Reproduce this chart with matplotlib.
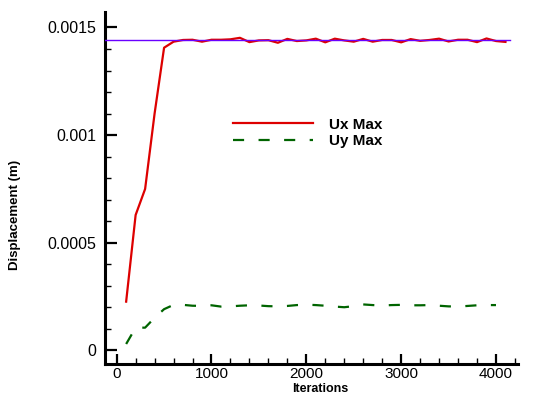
import matplotlib
matplotlib.use("Agg")
import matplotlib.pyplot as plt
from matplotlib.ticker import MultipleLocator

plt.rcParams["font.family"] = ["Liberation Sans", "DejaVu Sans"]

ITER_UX = list(range(100, 4200, 100))
UX_MAX = [
    0.000225, 0.000628, 0.000749, 0.001100, 0.001406, 0.001434, 0.001442, 0.001443,
    0.001434, 0.001443, 0.001443, 0.001445, 0.001452, 0.001432, 0.001440, 0.001441,
    0.001429, 0.001447, 0.001437, 0.001440, 0.001448, 0.001431, 0.001448, 0.001440,
    0.001434, 0.001447, 0.001434, 0.001442, 0.001442, 0.001431, 0.001446, 0.001438,
    0.001442, 0.001448, 0.001435, 0.001443, 0.001443, 0.001432, 0.001449, 0.001437,
    0.001433,
]

ITER_UY = list(range(100, 4100, 100))
UY_MAX = [
    0.000028, 0.000104, 0.000104, 0.000150, 0.000190, 0.000210, 0.000210, 0.000206,
    0.000205, 0.000208, 0.000202, 0.000203, 0.000206, 0.000208, 0.000207, 0.000204,
    0.000203, 0.000205, 0.000209, 0.000211, 0.000209, 0.000206, 0.000202, 0.000199,
    0.000204, 0.000212, 0.000209, 0.000207, 0.000209, 0.000210, 0.000208, 0.000208,
    0.000209, 0.000206, 0.000203, 0.000202, 0.000205, 0.000208, 0.000209, 0.000209,
]

REF_LEVEL = 0.00144
REF_X = [-123, 4150]

fig = plt.figure(figsize=(5.33, 3.94), dpi=100)
ax = fig.add_axes([0.197, 0.0761, 0.775, 0.8934])

ax.plot(REF_X, [REF_LEVEL, REF_LEVEL], color="#6a00ff", linewidth=1.0, zorder=3)
ax.plot(ITER_UX, UX_MAX, color="#dd0000", linewidth=1.6, label="Ux Max", zorder=2)
ax.plot(ITER_UY, UY_MAX, color="#006400", linewidth=1.6, dashes=(5, 6.5), label="Uy Max", zorder=2)

ax.set_xlim(-123, 4233)
ax.set_ylim(-0.0000651, 0.001572)

ax.xaxis.set_major_locator(MultipleLocator(1000))
ax.xaxis.set_minor_locator(MultipleLocator(200))
ax.yaxis.set_minor_locator(MultipleLocator(0.0001))
ax.set_yticks([0, 0.0005, 0.001, 0.0015])
ax.set_yticklabels(["0", "0.0005", "0.001", "0.0015"])

for side in ["top", "right"]:
    ax.spines[side].set_visible(False)
for side in ["left", "bottom"]:
    ax.spines[side].set_linewidth(2.2)

ax.tick_params(axis="y", which="major", direction="in", length=8.5, width=1.6, pad=6, labelsize=11.5)
ax.tick_params(axis="y", which="minor", direction="in", length=4.5, width=1.0)
ax.tick_params(axis="x", which="major", direction="in", length=7, width=1.6, pad=2, labelsize=11)
ax.tick_params(axis="x", which="minor", direction="in", length=4.5, width=1.0)

ax.set_xlabel("Iterations", fontsize=9, fontweight="bold")
ax.set_ylabel("Displacement (m)", fontsize=9.5, fontweight="bold")
ax.xaxis.set_label_coords(0.52, -0.053)
ax.yaxis.set_label_coords(-0.203, 0.423)

ax.legend(loc="center left", bbox_to_anchor=(0.277, 0.657), frameon=False,
          handlelength=5.2, handletextpad=1.1, labelspacing=0.15,
          prop={"weight": "bold", "size": 11})

fig.savefig("out.png", dpi=100)
